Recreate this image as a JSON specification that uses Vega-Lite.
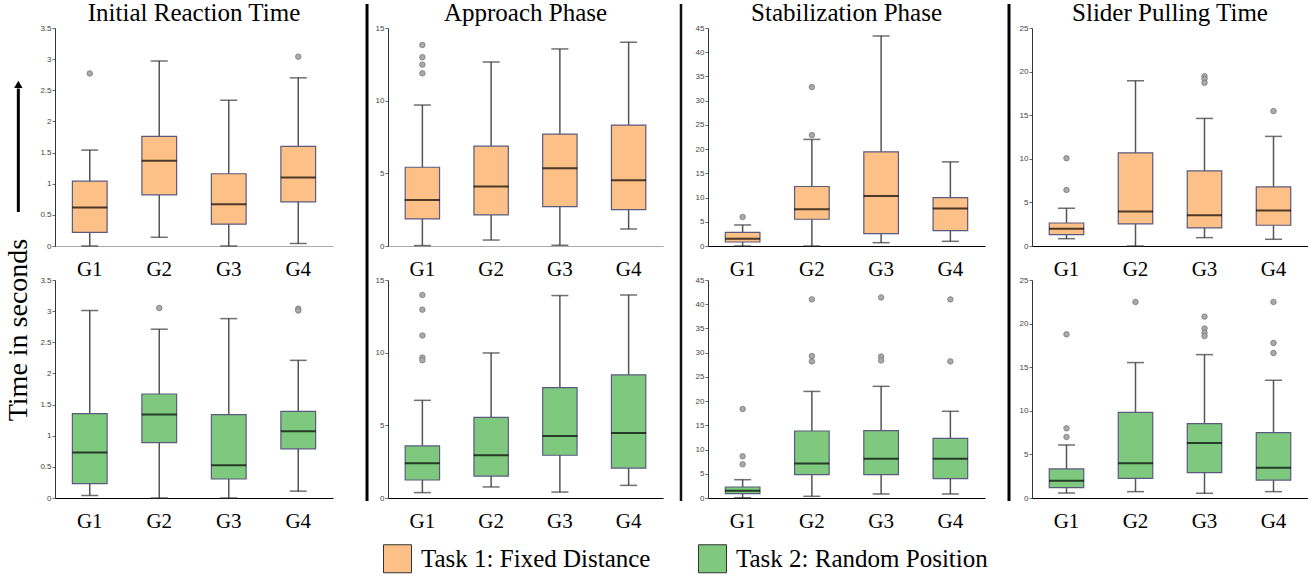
{
  "$schema": "https://vega.github.io/schema/vega-lite/v6.json",
  "padding": {"left": 0, "top": 1, "right": 0, "bottom": 0},
  "datasets": {
    "d": [
      {"p":"IRT","t":"Task 1: Fixed Distance","k":"box","g":"G1","lo":0,"q1":0.22,"med":0.62,"q3":1.04,"hi":1.54},
      {"p":"IRT","t":"Task 1: Fixed Distance","k":"box","g":"G2","lo":0.14,"q1":0.82,"med":1.37,"q3":1.76,"hi":2.97},
      {"p":"IRT","t":"Task 1: Fixed Distance","k":"box","g":"G3","lo":0,"q1":0.35,"med":0.67,"q3":1.16,"hi":2.34},
      {"p":"IRT","t":"Task 1: Fixed Distance","k":"box","g":"G4","lo":0.04,"q1":0.71,"med":1.10,"q3":1.60,"hi":2.70},
      {"p":"AP","t":"Task 1: Fixed Distance","k":"box","g":"G1","lo":0.03,"q1":1.86,"med":3.17,"q3":5.42,"hi":9.70},
      {"p":"AP","t":"Task 1: Fixed Distance","k":"box","g":"G2","lo":0.41,"q1":2.14,"med":4.09,"q3":6.87,"hi":12.66},
      {"p":"AP","t":"Task 1: Fixed Distance","k":"box","g":"G3","lo":0.05,"q1":2.71,"med":5.35,"q3":7.70,"hi":13.56},
      {"p":"AP","t":"Task 1: Fixed Distance","k":"box","g":"G4","lo":1.17,"q1":2.50,"med":4.52,"q3":8.32,"hi":14.02},
      {"p":"SP","t":"Task 1: Fixed Distance","k":"box","g":"G1","lo":0,"q1":0.83,"med":1.52,"q3":2.83,"hi":4.34},
      {"p":"SP","t":"Task 1: Fixed Distance","k":"box","g":"G2","lo":0,"q1":5.52,"med":7.59,"q3":12.28,"hi":22.0},
      {"p":"SP","t":"Task 1: Fixed Distance","k":"box","g":"G3","lo":0.69,"q1":2.55,"med":10.34,"q3":19.43,"hi":43.35},
      {"p":"SP","t":"Task 1: Fixed Distance","k":"box","g":"G4","lo":0.97,"q1":3.17,"med":7.72,"q3":10.0,"hi":17.37},
      {"p":"SPT","t":"Task 1: Fixed Distance","k":"box","g":"G1","lo":0.84,"q1":1.30,"med":1.99,"q3":2.64,"hi":4.33},
      {"p":"SPT","t":"Task 1: Fixed Distance","k":"box","g":"G2","lo":0,"q1":2.53,"med":3.95,"q3":10.68,"hi":18.95},
      {"p":"SPT","t":"Task 1: Fixed Distance","k":"box","g":"G3","lo":0.96,"q1":2.07,"med":3.53,"q3":8.61,"hi":14.63},
      {"p":"SPT","t":"Task 1: Fixed Distance","k":"box","g":"G4","lo":0.77,"q1":2.38,"med":4.06,"q3":6.78,"hi":12.57},
      {"p":"IRT","t":"Task 2: Random Position","k":"box","g":"G1","lo":0.04,"q1":0.23,"med":0.73,"q3":1.355,"hi":3.01},
      {"p":"IRT","t":"Task 2: Random Position","k":"box","g":"G2","lo":0,"q1":0.89,"med":1.34,"q3":1.67,"hi":2.71},
      {"p":"IRT","t":"Task 2: Random Position","k":"box","g":"G3","lo":0,"q1":0.305,"med":0.525,"q3":1.34,"hi":2.88},
      {"p":"IRT","t":"Task 2: Random Position","k":"box","g":"G4","lo":0.11,"q1":0.79,"med":1.07,"q3":1.39,"hi":2.21},
      {"p":"AP","t":"Task 2: Random Position","k":"box","g":"G1","lo":0.37,"q1":1.24,"med":2.39,"q3":3.58,"hi":6.72},
      {"p":"AP","t":"Task 2: Random Position","k":"box","g":"G2","lo":0.76,"q1":1.51,"med":2.94,"q3":5.55,"hi":9.98},
      {"p":"AP","t":"Task 2: Random Position","k":"box","g":"G3","lo":0.41,"q1":2.94,"med":4.27,"q3":7.60,"hi":13.93},
      {"p":"AP","t":"Task 2: Random Position","k":"box","g":"G4","lo":0.87,"q1":2.06,"med":4.47,"q3":8.47,"hi":13.97},
      {"p":"SP","t":"Task 2: Random Position","k":"box","g":"G1","lo":0.05,"q1":0.89,"med":1.51,"q3":2.27,"hi":3.78},
      {"p":"SP","t":"Task 2: Random Position","k":"box","g":"G2","lo":0.35,"q1":4.82,"med":7.10,"q3":13.83,"hi":22.0},
      {"p":"SP","t":"Task 2: Random Position","k":"box","g":"G3","lo":0.83,"q1":4.82,"med":8.12,"q3":13.9,"hi":23.05},
      {"p":"SP","t":"Task 2: Random Position","k":"box","g":"G4","lo":0.83,"q1":4.0,"med":8.12,"q3":12.32,"hi":17.9},
      {"p":"SPT","t":"Task 2: Random Position","k":"box","g":"G1","lo":0.57,"q1":1.19,"med":1.99,"q3":3.33,"hi":6.08},
      {"p":"SPT","t":"Task 2: Random Position","k":"box","g":"G2","lo":0.73,"q1":2.26,"med":3.98,"q3":9.83,"hi":15.53},
      {"p":"SPT","t":"Task 2: Random Position","k":"box","g":"G3","lo":0.54,"q1":2.91,"med":6.31,"q3":8.52,"hi":16.44},
      {"p":"SPT","t":"Task 2: Random Position","k":"box","g":"G4","lo":0.73,"q1":2.06,"med":3.48,"q3":7.49,"hi":13.5},
      {"p":"IRT","t":"Task 1: Fixed Distance","k":"out","g":"G1","v":2.77},
      {"p":"IRT","t":"Task 1: Fixed Distance","k":"out","g":"G4","v":3.04},
      {"p":"AP","t":"Task 1: Fixed Distance","k":"out","g":"G1","v":13.83},
      {"p":"AP","t":"Task 1: Fixed Distance","k":"out","g":"G1","v":12.99},
      {"p":"AP","t":"Task 1: Fixed Distance","k":"out","g":"G1","v":12.48},
      {"p":"AP","t":"Task 1: Fixed Distance","k":"out","g":"G1","v":11.88},
      {"p":"SP","t":"Task 1: Fixed Distance","k":"out","g":"G1","v":6.0},
      {"p":"SP","t":"Task 1: Fixed Distance","k":"out","g":"G2","v":32.8},
      {"p":"SP","t":"Task 1: Fixed Distance","k":"out","g":"G2","v":22.9},
      {"p":"SPT","t":"Task 1: Fixed Distance","k":"out","g":"G1","v":10.07},
      {"p":"SPT","t":"Task 1: Fixed Distance","k":"out","g":"G1","v":6.43},
      {"p":"SPT","t":"Task 1: Fixed Distance","k":"out","g":"G3","v":19.46},
      {"p":"SPT","t":"Task 1: Fixed Distance","k":"out","g":"G3","v":19.15},
      {"p":"SPT","t":"Task 1: Fixed Distance","k":"out","g":"G3","v":18.72},
      {"p":"SPT","t":"Task 1: Fixed Distance","k":"out","g":"G4","v":15.47},
      {"p":"IRT","t":"Task 2: Random Position","k":"out","g":"G2","v":3.05},
      {"p":"IRT","t":"Task 2: Random Position","k":"out","g":"G4","v":3.04},
      {"p":"IRT","t":"Task 2: Random Position","k":"out","g":"G4","v":3.01},
      {"p":"AP","t":"Task 2: Random Position","k":"out","g":"G1","v":13.97},
      {"p":"AP","t":"Task 2: Random Position","k":"out","g":"G1","v":12.96},
      {"p":"AP","t":"Task 2: Random Position","k":"out","g":"G1","v":11.18},
      {"p":"AP","t":"Task 2: Random Position","k":"out","g":"G1","v":9.66},
      {"p":"AP","t":"Task 2: Random Position","k":"out","g":"G1","v":9.48},
      {"p":"SP","t":"Task 2: Random Position","k":"out","g":"G1","v":18.37},
      {"p":"SP","t":"Task 2: Random Position","k":"out","g":"G1","v":8.61},
      {"p":"SP","t":"Task 2: Random Position","k":"out","g":"G1","v":6.96},
      {"p":"SP","t":"Task 2: Random Position","k":"out","g":"G2","v":41.0},
      {"p":"SP","t":"Task 2: Random Position","k":"out","g":"G2","v":29.3},
      {"p":"SP","t":"Task 2: Random Position","k":"out","g":"G2","v":28.2},
      {"p":"SP","t":"Task 2: Random Position","k":"out","g":"G3","v":41.4},
      {"p":"SP","t":"Task 2: Random Position","k":"out","g":"G3","v":29.2},
      {"p":"SP","t":"Task 2: Random Position","k":"out","g":"G3","v":28.4},
      {"p":"SP","t":"Task 2: Random Position","k":"out","g":"G4","v":41.0},
      {"p":"SP","t":"Task 2: Random Position","k":"out","g":"G4","v":28.2},
      {"p":"SPT","t":"Task 2: Random Position","k":"out","g":"G1","v":18.77},
      {"p":"SPT","t":"Task 2: Random Position","k":"out","g":"G1","v":7.99},
      {"p":"SPT","t":"Task 2: Random Position","k":"out","g":"G1","v":7.0},
      {"p":"SPT","t":"Task 2: Random Position","k":"out","g":"G2","v":22.48},
      {"p":"SPT","t":"Task 2: Random Position","k":"out","g":"G3","v":20.8},
      {"p":"SPT","t":"Task 2: Random Position","k":"out","g":"G3","v":19.43},
      {"p":"SPT","t":"Task 2: Random Position","k":"out","g":"G3","v":18.96},
      {"p":"SPT","t":"Task 2: Random Position","k":"out","g":"G3","v":18.58},
      {"p":"SPT","t":"Task 2: Random Position","k":"out","g":"G4","v":22.48},
      {"p":"SPT","t":"Task 2: Random Position","k":"out","g":"G4","v":17.78},
      {"p":"SPT","t":"Task 2: Random Position","k":"out","g":"G4","v":16.63}
    ]
  },
  "hconcat": [
    {
      "width": 39, "height": 473,
      "data": {"values": [{}]},
      "layer": [
        {"mark": {"type": "rule", "color": "#000", "strokeWidth": 3},
         "encoding": {
           "x": {"datum": 0.47, "type": "quantitative", "scale": {"domain": [0, 1]}, "axis": null},
           "y": {"datum": 0.611, "type": "quantitative", "scale": {"domain": [0, 1]}, "axis": null},
           "y2": {"datum": 0.872}}},
        {"mark": {"type": "point", "shape": "triangle-up", "filled": true, "color": "#000", "size": 70, "opacity": 1},
         "encoding": {
           "x": {"datum": 0.47, "type": "quantitative"},
           "y": {"datum": 0.881, "type": "quantitative"}}},
        {"mark": {"type": "text", "text": "Time in seconds", "angle": 270, "font": "Liberation Serif", "fontSize": 28, "color": "#000", "align": "center", "baseline": "middle"},
         "encoding": {
           "x": {"datum": 0.49, "type": "quantitative"},
           "y": {"datum": 0.3615, "type": "quantitative"}}}
      ]
    },
    {
      "vconcat": [
        {
          "width": 278, "height": 218, "title": "Initial Reaction Time",
          "data": {"name": "d"},
          "transform": [{"filter": "datum.p === 'IRT' && datum.t === 'Task 1: Fixed Distance'"}],
          "encoding": {"x": {"field": "g", "type": "nominal", "scale": {"domain": ["G1","G2","G3","G4"], "paddingInner": 0, "paddingOuter": 0}, "axis": {"title": null, "domainColor": "#aaaaaa"}}},
          "layer": [
            {"transform": [{"filter": "datum.k === 'box'"}], "mark": {"type": "rule", "color": "#555", "strokeWidth": 1.5},
             "encoding": {"y": {"field": "lo", "type": "quantitative", "title": null, "scale": {"domain": [0, 3.5], "nice": false}, "axis": {"values": [0,0.5,1,1.5,2,2.5,3,3.5], "format": ".1~f"}}, "y2": {"field": "hi"}}},
            {"transform": [{"filter": "datum.k === 'box'"}], "mark": {"type": "tick", "color": "#333", "size": 17, "thickness": 1.5}, "encoding": {"y": {"field": "lo", "type": "quantitative", "title": null, "axis": {"values": [0,0.5,1,1.5,2,2.5,3,3.5], "format": ".1~f"}}}},
            {"transform": [{"filter": "datum.k === 'box'"}], "mark": {"type": "tick", "color": "#333", "size": 17, "thickness": 1.5}, "encoding": {"y": {"field": "hi", "type": "quantitative", "title": null, "axis": {"values": [0,0.5,1,1.5,2,2.5,3,3.5], "format": ".1~f"}}}},
            {"transform": [{"filter": "datum.k === 'box'"}], "mark": {"type": "bar", "width": {"band": 0.5}, "stroke": "#5a5a80", "strokeWidth": 1.2, "opacity": 1},
             "encoding": {"y": {"field": "q1", "type": "quantitative", "title": null, "axis": {"values": [0,0.5,1,1.5,2,2.5,3,3.5], "format": ".1~f"}}, "y2": {"field": "q3"},
               "color": {"field": "t", "type": "nominal", "scale": {"domain": ["Task 1: Fixed Distance", "Task 2: Random Position"], "range": ["#fdc086", "#7fc97f"]},
                 "legend": {"orient": "none", "legendX": 383, "legendY": 516, "direction": "horizontal", "title": null, "symbolType": "M-1,-1H1V1H-1Z", "symbolSize": 784, "symbolStrokeColor": "#333", "symbolStrokeWidth": 1, "symbolOpacity": 1, "labelFont": "Liberation Serif", "labelFontSize": 25, "labelColor": "#000", "labelLimit": 500, "labelOffset": 9, "columnPadding": 45}}}},
            {"transform": [{"filter": "datum.k === 'box'"}], "mark": {"type": "tick", "color": "#000", "size": 35, "thickness": 2}, "encoding": {"y": {"field": "med", "type": "quantitative", "title": null, "axis": {"values": [0,0.5,1,1.5,2,2.5,3,3.5], "format": ".1~f"}}}},
            {"transform": [{"filter": "datum.k === 'out'"}], "mark": {"type": "point", "filled": true, "fill": "#aaaaaa", "stroke": "#777", "strokeWidth": 0.8, "size": 30, "opacity": 1}, "encoding": {"y": {"field": "v", "type": "quantitative", "title": null, "axis": {"values": [0,0.5,1,1.5,2,2.5,3,3.5], "format": ".1~f"}}}}
          ]
        },
        {
          "width": 278, "height": 218,
          "data": {"name": "d"},
          "transform": [{"filter": "datum.p === 'IRT' && datum.t === 'Task 2: Random Position'"}],
          "encoding": {"x": {"field": "g", "type": "nominal", "scale": {"domain": ["G1","G2","G3","G4"], "paddingInner": 0, "paddingOuter": 0}, "axis": {"title": null}}},
          "layer": [
            {"transform": [{"filter": "datum.k === 'box'"}], "mark": {"type": "rule", "color": "#555", "strokeWidth": 1.5},
             "encoding": {"y": {"field": "lo", "type": "quantitative", "title": null, "scale": {"domain": [0, 3.5], "nice": false}, "axis": {"values": [0,0.5,1,1.5,2,2.5,3,3.5], "format": ".1~f"}}, "y2": {"field": "hi"}}},
            {"transform": [{"filter": "datum.k === 'box'"}], "mark": {"type": "tick", "color": "#333", "size": 17, "thickness": 1.5}, "encoding": {"y": {"field": "lo", "type": "quantitative", "title": null, "axis": {"values": [0,0.5,1,1.5,2,2.5,3,3.5], "format": ".1~f"}}}},
            {"transform": [{"filter": "datum.k === 'box'"}], "mark": {"type": "tick", "color": "#333", "size": 17, "thickness": 1.5}, "encoding": {"y": {"field": "hi", "type": "quantitative", "title": null, "axis": {"values": [0,0.5,1,1.5,2,2.5,3,3.5], "format": ".1~f"}}}},
            {"transform": [{"filter": "datum.k === 'box'"}], "mark": {"type": "bar", "width": {"band": 0.5}, "stroke": "#5a5a80", "strokeWidth": 1.2, "opacity": 1},
             "encoding": {"y": {"field": "q1", "type": "quantitative", "title": null, "axis": {"values": [0,0.5,1,1.5,2,2.5,3,3.5], "format": ".1~f"}}, "y2": {"field": "q3"},
               "color": {"field": "t", "type": "nominal", "scale": {"domain": ["Task 1: Fixed Distance", "Task 2: Random Position"], "range": ["#fdc086", "#7fc97f"]},
                 "legend": {"orient": "none", "legendX": 383, "legendY": 516, "direction": "horizontal", "title": null, "symbolType": "M-1,-1H1V1H-1Z", "symbolSize": 784, "symbolStrokeColor": "#333", "symbolStrokeWidth": 1, "symbolOpacity": 1, "labelFont": "Liberation Serif", "labelFontSize": 25, "labelColor": "#000", "labelLimit": 500, "labelOffset": 9, "columnPadding": 45}}}},
            {"transform": [{"filter": "datum.k === 'box'"}], "mark": {"type": "tick", "color": "#000", "size": 35, "thickness": 2}, "encoding": {"y": {"field": "med", "type": "quantitative", "title": null, "axis": {"values": [0,0.5,1,1.5,2,2.5,3,3.5], "format": ".1~f"}}}},
            {"transform": [{"filter": "datum.k === 'out'"}], "mark": {"type": "point", "filled": true, "fill": "#aaaaaa", "stroke": "#777", "strokeWidth": 0.8, "size": 30, "opacity": 1}, "encoding": {"y": {"field": "v", "type": "quantitative", "title": null, "axis": {"values": [0,0.5,1,1.5,2,2.5,3,3.5], "format": ".1~f"}}}}
          ]
        }
      ],
      "spacing": -3
    },
    {
      "width": 42, "height": 473, "data": {"values": [{}]},
      "mark": {"type": "rule", "color": "#000", "strokeWidth": 3},
      "encoding": {"x": {"datum": 0.81, "type": "quantitative", "scale": {"domain": [0, 1]}, "axis": null},
                   "y": {"datum": 1.0507, "type": "quantitative", "scale": {"domain": [0, 1]}, "axis": null},
                   "y2": {"datum": 0}}
    },
    {
      "vconcat": [
        {
          "width": 275, "height": 218, "title": "Approach Phase",
          "data": {"name": "d"},
          "transform": [{"filter": "datum.p === 'AP' && datum.t === 'Task 1: Fixed Distance'"}],
          "encoding": {"x": {"field": "g", "type": "nominal", "scale": {"domain": ["G1","G2","G3","G4"], "paddingInner": 0, "paddingOuter": 0}, "axis": {"title": null, "domainColor": "#aaaaaa"}}},
          "layer": [
            {"transform": [{"filter": "datum.k === 'box'"}], "mark": {"type": "rule", "color": "#555", "strokeWidth": 1.5},
             "encoding": {"y": {"field": "lo", "type": "quantitative", "title": null, "scale": {"domain": [0, 15], "nice": false}, "axis": {"values": [0,5,10,15], "format": "d"}}, "y2": {"field": "hi"}}},
            {"transform": [{"filter": "datum.k === 'box'"}], "mark": {"type": "tick", "color": "#333", "size": 17, "thickness": 1.5}, "encoding": {"y": {"field": "lo", "type": "quantitative", "title": null, "axis": {"values": [0,5,10,15], "format": "d"}}}},
            {"transform": [{"filter": "datum.k === 'box'"}], "mark": {"type": "tick", "color": "#333", "size": 17, "thickness": 1.5}, "encoding": {"y": {"field": "hi", "type": "quantitative", "title": null, "axis": {"values": [0,5,10,15], "format": "d"}}}},
            {"transform": [{"filter": "datum.k === 'box'"}], "mark": {"type": "bar", "width": {"band": 0.5}, "stroke": "#5a5a80", "strokeWidth": 1.2, "opacity": 1},
             "encoding": {"y": {"field": "q1", "type": "quantitative", "title": null, "axis": {"values": [0,5,10,15], "format": "d"}}, "y2": {"field": "q3"},
               "color": {"field": "t", "type": "nominal", "scale": {"domain": ["Task 1: Fixed Distance", "Task 2: Random Position"], "range": ["#fdc086", "#7fc97f"]},
                 "legend": {"orient": "none", "legendX": 383, "legendY": 516, "direction": "horizontal", "title": null, "symbolType": "M-1,-1H1V1H-1Z", "symbolSize": 784, "symbolStrokeColor": "#333", "symbolStrokeWidth": 1, "symbolOpacity": 1, "labelFont": "Liberation Serif", "labelFontSize": 25, "labelColor": "#000", "labelLimit": 500, "labelOffset": 9, "columnPadding": 45}}}},
            {"transform": [{"filter": "datum.k === 'box'"}], "mark": {"type": "tick", "color": "#000", "size": 35, "thickness": 2}, "encoding": {"y": {"field": "med", "type": "quantitative", "title": null, "axis": {"values": [0,5,10,15], "format": "d"}}}},
            {"transform": [{"filter": "datum.k === 'out'"}], "mark": {"type": "point", "filled": true, "fill": "#aaaaaa", "stroke": "#777", "strokeWidth": 0.8, "size": 30, "opacity": 1}, "encoding": {"y": {"field": "v", "type": "quantitative", "title": null, "axis": {"values": [0,5,10,15], "format": "d"}}}}
          ]
        },
        {
          "width": 275, "height": 218,
          "data": {"name": "d"},
          "transform": [{"filter": "datum.p === 'AP' && datum.t === 'Task 2: Random Position'"}],
          "encoding": {"x": {"field": "g", "type": "nominal", "scale": {"domain": ["G1","G2","G3","G4"], "paddingInner": 0, "paddingOuter": 0}, "axis": {"title": null}}},
          "layer": [
            {"transform": [{"filter": "datum.k === 'box'"}], "mark": {"type": "rule", "color": "#555", "strokeWidth": 1.5},
             "encoding": {"y": {"field": "lo", "type": "quantitative", "title": null, "scale": {"domain": [0, 15], "nice": false}, "axis": {"values": [0,5,10,15], "format": "d"}}, "y2": {"field": "hi"}}},
            {"transform": [{"filter": "datum.k === 'box'"}], "mark": {"type": "tick", "color": "#333", "size": 17, "thickness": 1.5}, "encoding": {"y": {"field": "lo", "type": "quantitative", "title": null, "axis": {"values": [0,5,10,15], "format": "d"}}}},
            {"transform": [{"filter": "datum.k === 'box'"}], "mark": {"type": "tick", "color": "#333", "size": 17, "thickness": 1.5}, "encoding": {"y": {"field": "hi", "type": "quantitative", "title": null, "axis": {"values": [0,5,10,15], "format": "d"}}}},
            {"transform": [{"filter": "datum.k === 'box'"}], "mark": {"type": "bar", "width": {"band": 0.5}, "stroke": "#5a5a80", "strokeWidth": 1.2, "opacity": 1},
             "encoding": {"y": {"field": "q1", "type": "quantitative", "title": null, "axis": {"values": [0,5,10,15], "format": "d"}}, "y2": {"field": "q3"},
               "color": {"field": "t", "type": "nominal", "scale": {"domain": ["Task 1: Fixed Distance", "Task 2: Random Position"], "range": ["#fdc086", "#7fc97f"]},
                 "legend": {"orient": "none", "legendX": 383, "legendY": 516, "direction": "horizontal", "title": null, "symbolType": "M-1,-1H1V1H-1Z", "symbolSize": 784, "symbolStrokeColor": "#333", "symbolStrokeWidth": 1, "symbolOpacity": 1, "labelFont": "Liberation Serif", "labelFontSize": 25, "labelColor": "#000", "labelLimit": 500, "labelOffset": 9, "columnPadding": 45}}}},
            {"transform": [{"filter": "datum.k === 'box'"}], "mark": {"type": "tick", "color": "#000", "size": 35, "thickness": 2}, "encoding": {"y": {"field": "med", "type": "quantitative", "title": null, "axis": {"values": [0,5,10,15], "format": "d"}}}},
            {"transform": [{"filter": "datum.k === 'out'"}], "mark": {"type": "point", "filled": true, "fill": "#aaaaaa", "stroke": "#777", "strokeWidth": 0.8, "size": 30, "opacity": 1}, "encoding": {"y": {"field": "v", "type": "quantitative", "title": null, "axis": {"values": [0,5,10,15], "format": "d"}}}}
          ]
        }
      ],
      "spacing": -3
    },
    {
      "width": 32, "height": 473, "data": {"values": [{}]},
      "mark": {"type": "rule", "color": "#111", "strokeWidth": 2.5},
      "encoding": {"x": {"datum": 0.5625, "type": "quantitative", "scale": {"domain": [0, 1]}, "axis": null},
                   "y": {"datum": 1.0507, "type": "quantitative", "scale": {"domain": [0, 1]}, "axis": null},
                   "y2": {"datum": 0}}
    },
    {
      "vconcat": [
        {
          "width": 277, "height": 218, "title": "Stabilization Phase",
          "data": {"name": "d"},
          "transform": [{"filter": "datum.p === 'SP' && datum.t === 'Task 1: Fixed Distance'"}],
          "encoding": {"x": {"field": "g", "type": "nominal", "scale": {"domain": ["G1","G2","G3","G4"], "paddingInner": 0, "paddingOuter": 0}, "axis": {"title": null}}},
          "layer": [
            {"transform": [{"filter": "datum.k === 'box'"}], "mark": {"type": "rule", "color": "#555", "strokeWidth": 1.5},
             "encoding": {"y": {"field": "lo", "type": "quantitative", "title": null, "scale": {"domain": [0, 45], "nice": false}, "axis": {"values": [0,5,10,15,20,25,30,35,40,45], "format": "d"}}, "y2": {"field": "hi"}}},
            {"transform": [{"filter": "datum.k === 'box'"}], "mark": {"type": "tick", "color": "#333", "size": 17, "thickness": 1.5}, "encoding": {"y": {"field": "lo", "type": "quantitative", "title": null, "axis": {"values": [0,5,10,15,20,25,30,35,40,45], "format": "d"}}}},
            {"transform": [{"filter": "datum.k === 'box'"}], "mark": {"type": "tick", "color": "#333", "size": 17, "thickness": 1.5}, "encoding": {"y": {"field": "hi", "type": "quantitative", "title": null, "axis": {"values": [0,5,10,15,20,25,30,35,40,45], "format": "d"}}}},
            {"transform": [{"filter": "datum.k === 'box'"}], "mark": {"type": "bar", "width": {"band": 0.5}, "stroke": "#5a5a80", "strokeWidth": 1.2, "opacity": 1},
             "encoding": {"y": {"field": "q1", "type": "quantitative", "title": null, "axis": {"values": [0,5,10,15,20,25,30,35,40,45], "format": "d"}}, "y2": {"field": "q3"},
               "color": {"field": "t", "type": "nominal", "scale": {"domain": ["Task 1: Fixed Distance", "Task 2: Random Position"], "range": ["#fdc086", "#7fc97f"]},
                 "legend": {"orient": "none", "legendX": 383, "legendY": 516, "direction": "horizontal", "title": null, "symbolType": "M-1,-1H1V1H-1Z", "symbolSize": 784, "symbolStrokeColor": "#333", "symbolStrokeWidth": 1, "symbolOpacity": 1, "labelFont": "Liberation Serif", "labelFontSize": 25, "labelColor": "#000", "labelLimit": 500, "labelOffset": 9, "columnPadding": 45}}}},
            {"transform": [{"filter": "datum.k === 'box'"}], "mark": {"type": "tick", "color": "#000", "size": 35, "thickness": 2}, "encoding": {"y": {"field": "med", "type": "quantitative", "title": null, "axis": {"values": [0,5,10,15,20,25,30,35,40,45], "format": "d"}}}},
            {"transform": [{"filter": "datum.k === 'out'"}], "mark": {"type": "point", "filled": true, "fill": "#aaaaaa", "stroke": "#777", "strokeWidth": 0.8, "size": 30, "opacity": 1}, "encoding": {"y": {"field": "v", "type": "quantitative", "title": null, "axis": {"values": [0,5,10,15,20,25,30,35,40,45], "format": "d"}}}}
          ]
        },
        {
          "width": 277, "height": 218,
          "data": {"name": "d"},
          "transform": [{"filter": "datum.p === 'SP' && datum.t === 'Task 2: Random Position'"}],
          "encoding": {"x": {"field": "g", "type": "nominal", "scale": {"domain": ["G1","G2","G3","G4"], "paddingInner": 0, "paddingOuter": 0}, "axis": {"title": null}}},
          "layer": [
            {"transform": [{"filter": "datum.k === 'box'"}], "mark": {"type": "rule", "color": "#555", "strokeWidth": 1.5},
             "encoding": {"y": {"field": "lo", "type": "quantitative", "title": null, "scale": {"domain": [0, 45], "nice": false}, "axis": {"values": [0,5,10,15,20,25,30,35,40,45], "format": "d"}}, "y2": {"field": "hi"}}},
            {"transform": [{"filter": "datum.k === 'box'"}], "mark": {"type": "tick", "color": "#333", "size": 17, "thickness": 1.5}, "encoding": {"y": {"field": "lo", "type": "quantitative", "title": null, "axis": {"values": [0,5,10,15,20,25,30,35,40,45], "format": "d"}}}},
            {"transform": [{"filter": "datum.k === 'box'"}], "mark": {"type": "tick", "color": "#333", "size": 17, "thickness": 1.5}, "encoding": {"y": {"field": "hi", "type": "quantitative", "title": null, "axis": {"values": [0,5,10,15,20,25,30,35,40,45], "format": "d"}}}},
            {"transform": [{"filter": "datum.k === 'box'"}], "mark": {"type": "bar", "width": {"band": 0.5}, "stroke": "#5a5a80", "strokeWidth": 1.2, "opacity": 1},
             "encoding": {"y": {"field": "q1", "type": "quantitative", "title": null, "axis": {"values": [0,5,10,15,20,25,30,35,40,45], "format": "d"}}, "y2": {"field": "q3"},
               "color": {"field": "t", "type": "nominal", "scale": {"domain": ["Task 1: Fixed Distance", "Task 2: Random Position"], "range": ["#fdc086", "#7fc97f"]},
                 "legend": {"orient": "none", "legendX": 383, "legendY": 516, "direction": "horizontal", "title": null, "symbolType": "M-1,-1H1V1H-1Z", "symbolSize": 784, "symbolStrokeColor": "#333", "symbolStrokeWidth": 1, "symbolOpacity": 1, "labelFont": "Liberation Serif", "labelFontSize": 25, "labelColor": "#000", "labelLimit": 500, "labelOffset": 9, "columnPadding": 45}}}},
            {"transform": [{"filter": "datum.k === 'box'"}], "mark": {"type": "tick", "color": "#000", "size": 35, "thickness": 2}, "encoding": {"y": {"field": "med", "type": "quantitative", "title": null, "axis": {"values": [0,5,10,15,20,25,30,35,40,45], "format": "d"}}}},
            {"transform": [{"filter": "datum.k === 'out'"}], "mark": {"type": "point", "filled": true, "fill": "#aaaaaa", "stroke": "#777", "strokeWidth": 0.8, "size": 30, "opacity": 1}, "encoding": {"y": {"field": "v", "type": "quantitative", "title": null, "axis": {"values": [0,5,10,15,20,25,30,35,40,45], "format": "d"}}}}
          ]
        }
      ],
      "spacing": -3
    },
    {
      "width": 34, "height": 473, "data": {"values": [{}]},
      "mark": {"type": "rule", "color": "#000", "strokeWidth": 3},
      "encoding": {"x": {"datum": 0.706, "type": "quantitative", "scale": {"domain": [0, 1]}, "axis": null},
                   "y": {"datum": 1.0507, "type": "quantitative", "scale": {"domain": [0, 1]}, "axis": null},
                   "y2": {"datum": 0}}
    },
    {
      "vconcat": [
        {
          "width": 276, "height": 218, "title": "Slider Pulling Time",
          "data": {"name": "d"},
          "transform": [{"filter": "datum.p === 'SPT' && datum.t === 'Task 1: Fixed Distance'"}],
          "encoding": {"x": {"field": "g", "type": "nominal", "scale": {"domain": ["G1","G2","G3","G4"], "paddingInner": 0, "paddingOuter": 0}, "axis": {"title": null}}},
          "layer": [
            {"transform": [{"filter": "datum.k === 'box'"}], "mark": {"type": "rule", "color": "#555", "strokeWidth": 1.5},
             "encoding": {"y": {"field": "lo", "type": "quantitative", "title": null, "scale": {"domain": [0, 25], "nice": false}, "axis": {"values": [0,5,10,15,20,25], "format": "d"}}, "y2": {"field": "hi"}}},
            {"transform": [{"filter": "datum.k === 'box'"}], "mark": {"type": "tick", "color": "#333", "size": 17, "thickness": 1.5}, "encoding": {"y": {"field": "lo", "type": "quantitative", "title": null, "axis": {"values": [0,5,10,15,20,25], "format": "d"}}}},
            {"transform": [{"filter": "datum.k === 'box'"}], "mark": {"type": "tick", "color": "#333", "size": 17, "thickness": 1.5}, "encoding": {"y": {"field": "hi", "type": "quantitative", "title": null, "axis": {"values": [0,5,10,15,20,25], "format": "d"}}}},
            {"transform": [{"filter": "datum.k === 'box'"}], "mark": {"type": "bar", "width": {"band": 0.5}, "stroke": "#5a5a80", "strokeWidth": 1.2, "opacity": 1},
             "encoding": {"y": {"field": "q1", "type": "quantitative", "title": null, "axis": {"values": [0,5,10,15,20,25], "format": "d"}}, "y2": {"field": "q3"},
               "color": {"field": "t", "type": "nominal", "scale": {"domain": ["Task 1: Fixed Distance", "Task 2: Random Position"], "range": ["#fdc086", "#7fc97f"]},
                 "legend": {"orient": "none", "legendX": 383, "legendY": 516, "direction": "horizontal", "title": null, "symbolType": "M-1,-1H1V1H-1Z", "symbolSize": 784, "symbolStrokeColor": "#333", "symbolStrokeWidth": 1, "symbolOpacity": 1, "labelFont": "Liberation Serif", "labelFontSize": 25, "labelColor": "#000", "labelLimit": 500, "labelOffset": 9, "columnPadding": 45}}}},
            {"transform": [{"filter": "datum.k === 'box'"}], "mark": {"type": "tick", "color": "#000", "size": 35, "thickness": 2}, "encoding": {"y": {"field": "med", "type": "quantitative", "title": null, "axis": {"values": [0,5,10,15,20,25], "format": "d"}}}},
            {"transform": [{"filter": "datum.k === 'out'"}], "mark": {"type": "point", "filled": true, "fill": "#aaaaaa", "stroke": "#777", "strokeWidth": 0.8, "size": 30, "opacity": 1}, "encoding": {"y": {"field": "v", "type": "quantitative", "title": null, "axis": {"values": [0,5,10,15,20,25], "format": "d"}}}}
          ]
        },
        {
          "width": 276, "height": 218,
          "data": {"name": "d"},
          "transform": [{"filter": "datum.p === 'SPT' && datum.t === 'Task 2: Random Position'"}],
          "encoding": {"x": {"field": "g", "type": "nominal", "scale": {"domain": ["G1","G2","G3","G4"], "paddingInner": 0, "paddingOuter": 0}, "axis": {"title": null}}},
          "layer": [
            {"transform": [{"filter": "datum.k === 'box'"}], "mark": {"type": "rule", "color": "#555", "strokeWidth": 1.5},
             "encoding": {"y": {"field": "lo", "type": "quantitative", "title": null, "scale": {"domain": [0, 25], "nice": false}, "axis": {"values": [0,5,10,15,20,25], "format": "d"}}, "y2": {"field": "hi"}}},
            {"transform": [{"filter": "datum.k === 'box'"}], "mark": {"type": "tick", "color": "#333", "size": 17, "thickness": 1.5}, "encoding": {"y": {"field": "lo", "type": "quantitative", "title": null, "axis": {"values": [0,5,10,15,20,25], "format": "d"}}}},
            {"transform": [{"filter": "datum.k === 'box'"}], "mark": {"type": "tick", "color": "#333", "size": 17, "thickness": 1.5}, "encoding": {"y": {"field": "hi", "type": "quantitative", "title": null, "axis": {"values": [0,5,10,15,20,25], "format": "d"}}}},
            {"transform": [{"filter": "datum.k === 'box'"}], "mark": {"type": "bar", "width": {"band": 0.5}, "stroke": "#5a5a80", "strokeWidth": 1.2, "opacity": 1},
             "encoding": {"y": {"field": "q1", "type": "quantitative", "title": null, "axis": {"values": [0,5,10,15,20,25], "format": "d"}}, "y2": {"field": "q3"},
               "color": {"field": "t", "type": "nominal", "scale": {"domain": ["Task 1: Fixed Distance", "Task 2: Random Position"], "range": ["#fdc086", "#7fc97f"]},
                 "legend": {"orient": "none", "legendX": 383, "legendY": 516, "direction": "horizontal", "title": null, "symbolType": "M-1,-1H1V1H-1Z", "symbolSize": 784, "symbolStrokeColor": "#333", "symbolStrokeWidth": 1, "symbolOpacity": 1, "labelFont": "Liberation Serif", "labelFontSize": 25, "labelColor": "#000", "labelLimit": 500, "labelOffset": 9, "columnPadding": 45}}}},
            {"transform": [{"filter": "datum.k === 'box'"}], "mark": {"type": "tick", "color": "#000", "size": 35, "thickness": 2}, "encoding": {"y": {"field": "med", "type": "quantitative", "title": null, "axis": {"values": [0,5,10,15,20,25], "format": "d"}}}},
            {"transform": [{"filter": "datum.k === 'out'"}], "mark": {"type": "point", "filled": true, "fill": "#aaaaaa", "stroke": "#777", "strokeWidth": 0.8, "size": 30, "opacity": 1}, "encoding": {"y": {"field": "v", "type": "quantitative", "title": null, "axis": {"values": [0,5,10,15,20,25], "format": "d"}}}}
          ]
        }
      ],
      "spacing": -3
    }
  ],
  "spacing": 0,
  "config": {
    "view": {"stroke": null},
    "axis": {"grid": false},
    "axisX": {"labelFont": "Liberation Serif", "labelFontSize": 21, "labelColor": "#000", "labelAngle": 0, "ticks": false, "labelPadding": 12, "domainColor": "#000", "domainWidth": 1},
    "axisY": {"labelFont": "Liberation Sans", "labelFontSize": 8, "labelColor": "#444", "tickSize": 3, "tickColor": "#444", "tickWidth": 0.8, "domainColor": "#333", "domainWidth": 1, "labelPadding": 1},
    "legend": {"labelFont": "Liberation Serif", "labelFontSize": 25, "labelColor": "#000", "labelLimit": 500, "labelOffset": 9, "columnPadding": 45},
    "style": {"guide-label": {"font": "Liberation Serif"}},
    "title": {"font": "Liberation Serif", "fontSize": 25, "fontWeight": "normal", "color": "#000", "offset": -2, "baseline": "alphabetic"}
  }
}
